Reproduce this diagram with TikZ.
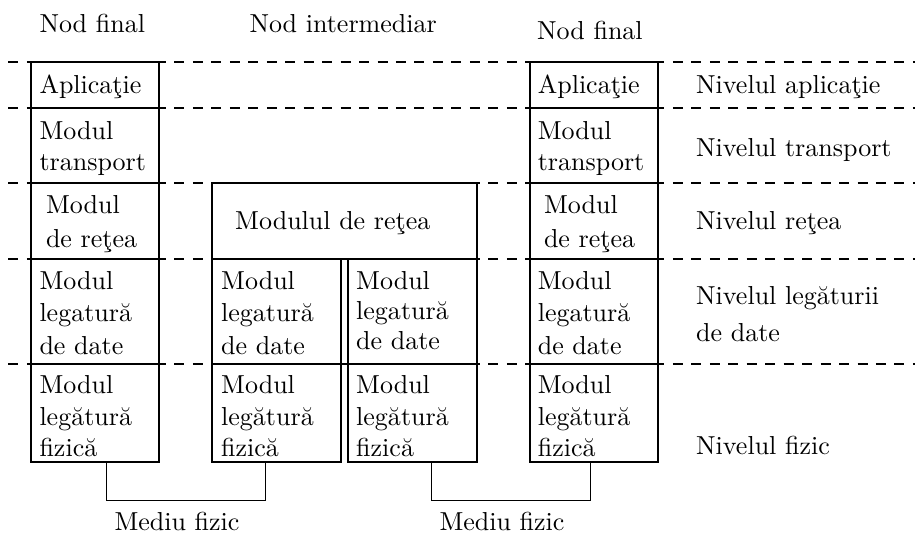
\documentclass[tikz,border=0pt]{standalone}
\usetikzlibrary{fit}
\begin{document}
\begin{tikzpicture}[x=0.3846pt,y=-0.3846pt,
  cell/.style={draw, inner sep=0pt, line width=0.45pt},
  level/.style={dash pattern=on 3.85pt off 3.25pt, line width=0.45pt},
  txt/.style={anchor=base west, inner sep=0pt, align=left, text width=3cm},
  lskip/.style={font=\fontsize{10pt}{#1}\selectfont},
  link/.style={line width=0.45pt}]
\useasboundingbox (0,0) rectangle (915,536);

% layer separators
\foreach \yy in {62,108,183,259,364}
  \draw[level] (8.3,\yy) -- (915,\yy);

% end node (left)
\node[cell, fit={(31,62)(159,108)}]  (l1) {};
\node[cell, fit={(31,108)(159,183)}] (l2) {};
\node[cell, fit={(31,183)(159,259)}] (l3) {};
\node[cell, fit={(31,259)(159,364)}] (l4) {};
\node[cell, fit={(31,364)(159,462)}] (l5) {};

% intermediate node
\node[cell, fit={(212,183)(477,259)}] (i3) {};
\node[cell, fit={(212,259)(341,364)}] (i4a) {};
\node[cell, fit={(212,364)(341,462)}] (i5a) {};
\node[cell, fit={(348,259)(477,364)}] (i4b) {};
\node[cell, fit={(348,364)(477,462)}] (i5b) {};

% end node (right)
\node[cell, fit={(530,62)(658,108)}]  (r1) {};
\node[cell, fit={(530,108)(658,183)}] (r2) {};
\node[cell, fit={(530,183)(658,259)}] (r3) {};
\node[cell, fit={(530,259)(658,364)}] (r4) {};
\node[cell, fit={(530,364)(658,462)}] (r5) {};

% headings
\node[txt] (hl) at (39,32.3)  {Nod final};
\node[txt] (hm) at (249,32.3) {Nod intermediar};
\node[txt] (hr) at (536.7,40) {Nod final};

% left stack labels
\node[txt] (tl1) at (39,93.3) {Aplicaţie};
\node[txt, lskip=12pt] (tl2) at (39,139.3) {Modul\\transport};
\node[txt, lskip=13.1pt] (tl3) at (45.5,213.3) {Modul\\de reţea};
\node[txt, lskip=12.5pt] (tl4) at (39,289.3) {Modul\\legatură\\de date};
\node[txt, lskip=12pt] (tl5) at (39,394) {Modul\\legătură\\fizică};

% intermediate stack labels
\node[txt] (ti3) at (234.7,230) {Modulul de reţea};
\node[txt, lskip=12.5pt] (ti4a) at (220.7,289.3) {Modul\\legatură\\de date};
\node[txt, lskip=12pt] (ti5a) at (220.7,394) {Modul\\legătură\\fizică};
\node[txt, lskip=11.6pt] (ti4b) at (355.7,289.3) {Modul\\legatură\\de date};
\node[txt, lskip=12pt] (ti5b) at (355.7,394) {Modul\\legătură\\fizică};

% right stack labels
\node[txt] (tr1) at (537.3,93.3) {Aplicaţie};
\node[txt, lskip=12pt] (tr2) at (537.3,139.3) {Modul\\transport};
\node[txt, lskip=13.1pt] (tr3) at (543.5,213.3) {Modul\\de reţea};
\node[txt, lskip=12.5pt] (tr4) at (537.3,289.3) {Modul\\legatură\\de date};
\node[txt, lskip=12pt] (tr5) at (537.3,394) {Modul\\legătură\\fizică};

% layer names
\node[txt] (n1) at (695.7,93.3)  {Nivelul aplicaţie};
\node[txt] (n2) at (695.7,156.7) {Nivelul transport};
\node[txt] (n3) at (695.7,229.3) {Nivelul reţea};
\node[txt, lskip=14.4pt] (n4) at (695.7,304.3) {Nivelul legăturii\\de date};
\node[txt] (n5) at (695.7,454.3) {Nivelul fizic};

% physical media
\draw[link] ([xshift=4.5pt]l5.south) -- ++(0,38) -| ([xshift=-4.15pt]i5a.south);
\draw[link] ([xshift=7.38pt]i5b.south) -- ++(0,38) -| ([xshift=-1.42pt]r5.south);
\node[txt] (m1) at (114,530) {Mediu fizic};
\node[txt] (m2) at (439,530) {Mediu fizic};
\end{tikzpicture}
\end{document}
